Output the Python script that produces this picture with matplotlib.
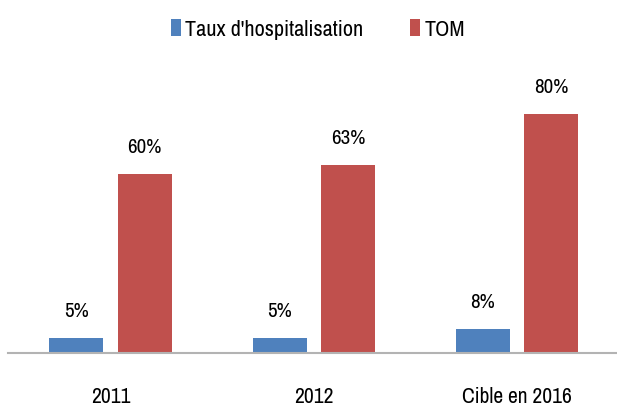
import numpy as np
import matplotlib
matplotlib.use("Agg")
import matplotlib.pyplot as plt
from matplotlib import font_manager

# donnees
categories = ["2011", "2012", "Cible en 2016"]
taux_hospit = [5, 5, 8]
tom = [60, 63, 80]
series_names = ["Taux d'hospitalisation", "TOM"]

# police etroite (type Calibri compresse) si disponible
names = {f.name for f in font_manager.fontManager.ttflist}
fam = "Liberation Sans"
for cand in ["Archivo Narrow", "Barlow Semi Condensed", "Liberation Sans Narrow"]:
    if cand in names:
        fam = cand
        break
plt.rcParams['font.family'] = [fam, "DejaVu Sans"]

blue = "#4F81BD"
red = "#C0504D"

fig = plt.figure(figsize=(6.17, 4.10), dpi=100)
ax = fig.add_axes([8 / 617, 0.1366, 609 / 617, 0.7276])

x = np.arange(len(categories))
w = 0.266
off = 0.168
b1 = ax.bar(x - off, taux_hospit, w, color=blue, label=series_names[0])
b2 = ax.bar(x + off, tom, w, color=red, label=series_names[1])

for bars, vals in [(b1, taux_hospit), (b2, tom)]:
    for rect, v in zip(bars, vals):
        ax.annotate(f"{v}%", (rect.get_x() + rect.get_width() / 2, v),
                    xytext=(0, 13), textcoords="offset points",
                    ha="center", va="bottom", fontsize=15, color="#000000")

ax.set_xlim(-0.504, 2.492)
ax.set_ylim(0, 100)
ax.set_xticks(x)
ax.set_xticklabels(categories, fontsize=15.5)
ax.tick_params(axis="x", length=0, pad=24)
ax.set_yticks([])
for s in ["top", "right", "left"]:
    ax.spines[s].set_visible(False)
ax.spines["bottom"].set_color("#B3B3B3")
ax.spines["bottom"].set_linewidth(1.5)

fig.legend(handles=[b1, b2], loc="upper center", bbox_to_anchor=(0.515, 1.0),
           ncol=2, frameon=False, fontsize=16, handlelength=0.45,
           handleheight=0.8, handletextpad=0.2, columnspacing=2.1)

fig.savefig("out.png", dpi=100)
